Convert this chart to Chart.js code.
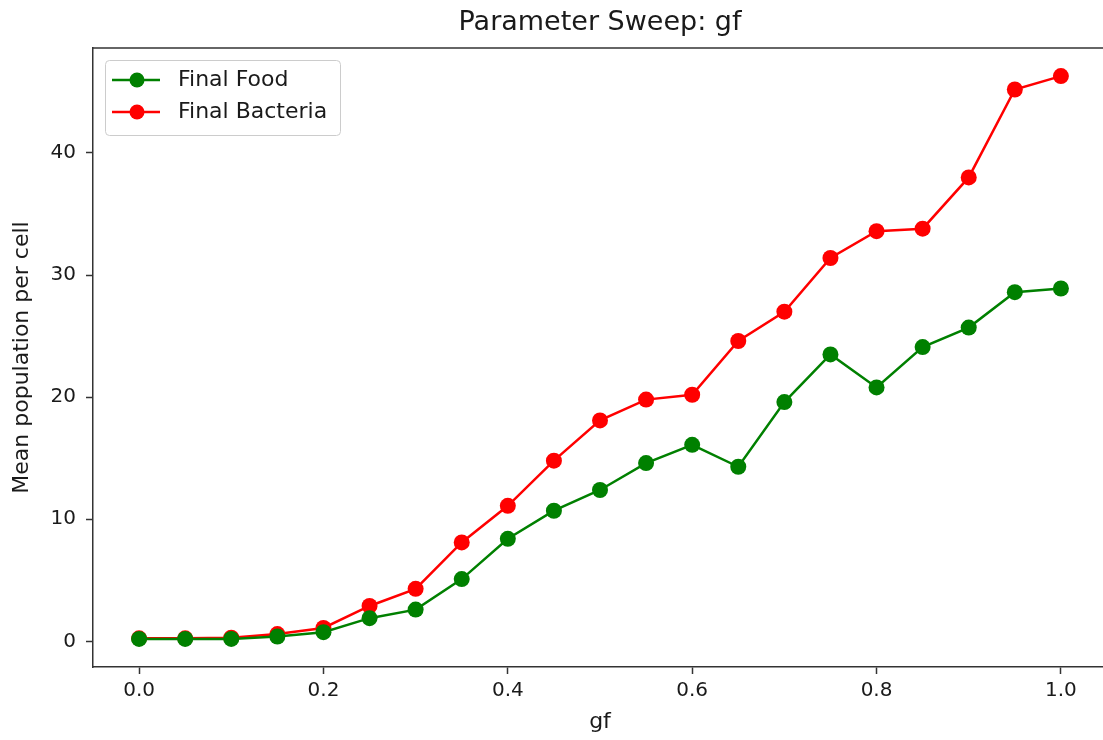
<!DOCTYPE html>
<html>
<head>
<meta charset="utf-8">
<script src="https://cdn.jsdelivr.net/npm/chart.js@4.4.0/dist/chart.umd.min.js"></script>
<style>
  html, body { margin: 0; padding: 0; background: #fff; overflow: hidden; }
  #wrap { position: relative; width: 1120px; height: 740px; }
</style>
</head>
<body>
<div id="wrap"><canvas id="sweep" width="1120" height="740"></canvas></div>
<script>
// values
const gfValues = [0.0, 0.05, 0.1, 0.15, 0.2, 0.25, 0.3, 0.35, 0.4, 0.45, 0.5,
                  0.55, 0.6, 0.65, 0.7, 0.75, 0.8, 0.85, 0.9, 0.95, 1.0];
const finalFood = [0.2, 0.2, 0.2, 0.4, 0.75, 1.9, 2.6, 5.1, 8.4, 10.7, 12.4,
                   14.6, 16.1, 14.3, 19.6, 23.5, 20.8, 24.1, 25.7, 28.6, 28.9];
const finalBacteria = [0.25, 0.25, 0.3, 0.6, 1.1, 2.9, 4.3, 8.1, 11.1, 14.8, 18.1,
                       19.8, 20.2, 24.6, 27.0, 31.4, 33.6, 33.8, 38.0, 45.2, 46.3];
const xTickValues = [0.0, 0.2, 0.4, 0.6, 0.8, 1.0];
const yTickValues = [0, 10, 20, 30, 40];

const FONT = 'DejaVu Sans';
const axisColor = '#333';
const textColor = '#1a1a1a';

function toPoints(ys) {
    return gfValues.map((x, i) => ({ x: x, y: ys[i] }));
}

// top spine + legend box drawn inside the plot area, like matplotlib
const framePlugin = {
    id: 'frame',
    afterDraw(chart) {
        const ctx = chart.ctx;
        const area = chart.chartArea;
        ctx.save();
        ctx.strokeStyle = axisColor;
        ctx.lineWidth = 1.5;
        ctx.beginPath();
        ctx.moveTo(area.left, area.top);
        ctx.lineTo(area.right, area.top);
        ctx.stroke();

        // legend
        const bx = 105, by = 60, bw = 235, bh = 75;
        ctx.fillStyle = 'rgba(255,255,255,0.8)';
        ctx.strokeStyle = '#cccccc';
        ctx.lineWidth = 1;
        ctx.beginPath();
        ctx.roundRect(bx + 0.5, by + 0.5, bw, bh, 4);
        ctx.fill();
        ctx.stroke();

        chart.data.datasets.forEach((ds, i) => {
            const rowY = by + 20 + i * 32;
            ctx.strokeStyle = ds.borderColor;
            ctx.lineWidth = 2.5;
            ctx.beginPath();
            ctx.moveTo(112, rowY);
            ctx.lineTo(160, rowY);
            ctx.stroke();
            ctx.fillStyle = ds.backgroundColor;
            ctx.beginPath();
            ctx.arc(137, rowY, 7.5, 0, Math.PI * 2);
            ctx.fill();
            ctx.fillStyle = textColor;
            ctx.font = '22px "' + FONT + '"';
            ctx.textBaseline = 'middle';
            ctx.textAlign = 'left';
            ctx.fillText(ds.label, 178, rowY);
        });
        ctx.restore();
    }
};

const ctx = document.getElementById('sweep').getContext('2d');
new Chart(ctx, {
    type: 'line',
    data: {
        datasets: [{
            label: 'Final Food',
            data: toPoints(finalFood),
            borderColor: '#008000',
            backgroundColor: '#008000',
            borderWidth: 2.5,
            pointRadius: 8,
            pointHoverRadius: 8,
            pointBorderWidth: 0,
            tension: 0
        }, {
            label: 'Final Bacteria',
            data: toPoints(finalBacteria),
            borderColor: '#ff0000',
            backgroundColor: '#ff0000',
            borderWidth: 2.5,
            pointRadius: 8,
            pointHoverRadius: 8,
            pointBorderWidth: 0,
            tension: 0
        }]
    },
    options: {
        responsive: false,
        animation: false,
        devicePixelRatio: 1,
        layout: { padding: { top: 0, left: 0, right: 13, bottom: 0 } },
        plugins: {
            legend: { display: false },
            tooltip: { enabled: false },
            title: {
                display: true,
                fullSize: false,
                text: 'Parameter Sweep: gf',
                color: textColor,
                font: { family: FONT, size: 27, weight: 'normal' },
                padding: { top: 7, bottom: 8.6 }
            }
        },
        scales: {
            x: {
                type: 'linear',
                min: -0.05,
                max: 1.05,
                afterBuildTicks: scale => { scale.ticks = xTickValues.map(v => ({ value: v })); },
                afterFit: scale => { scale.height = 73; },
                ticks: {
                    color: textColor,
                    font: { family: FONT, size: 20 },
                    padding: 5,
                    maxRotation: 0,
                    callback: v => v.toFixed(1)
                },
                grid: { drawOnChartArea: false, drawTicks: true, tickLength: 7, tickColor: axisColor, tickWidth: 1.5 },
                border: { color: axisColor, width: 1.5 },
                title: {
                    display: true,
                    text: 'gf',
                    color: textColor,
                    font: { family: FONT, size: 22 },
                    padding: { top: 4, bottom: 5 }
                }
            },
            y: {
                type: 'linear',
                min: -2.1,
                max: 48.6,
                afterBuildTicks: scale => { scale.ticks = yTickValues.map(v => ({ value: v })); },
                afterFit: scale => { scale.width = 93; },
                ticks: {
                    color: textColor,
                    font: { family: FONT, size: 20 },
                    padding: 10
                },
                grid: { drawOnChartArea: false, drawTicks: true, tickLength: 7, tickColor: axisColor, tickWidth: 1.5 },
                border: { color: axisColor, width: 1.5 },
                title: {
                    display: true,
                    text: 'Mean population per cell',
                    color: textColor,
                    font: { family: FONT, size: 22 },
                    padding: { top: 9, bottom: 4 }
                }
            }
        }
    },
    plugins: [framePlugin]
});
</script>
</body>
</html>
